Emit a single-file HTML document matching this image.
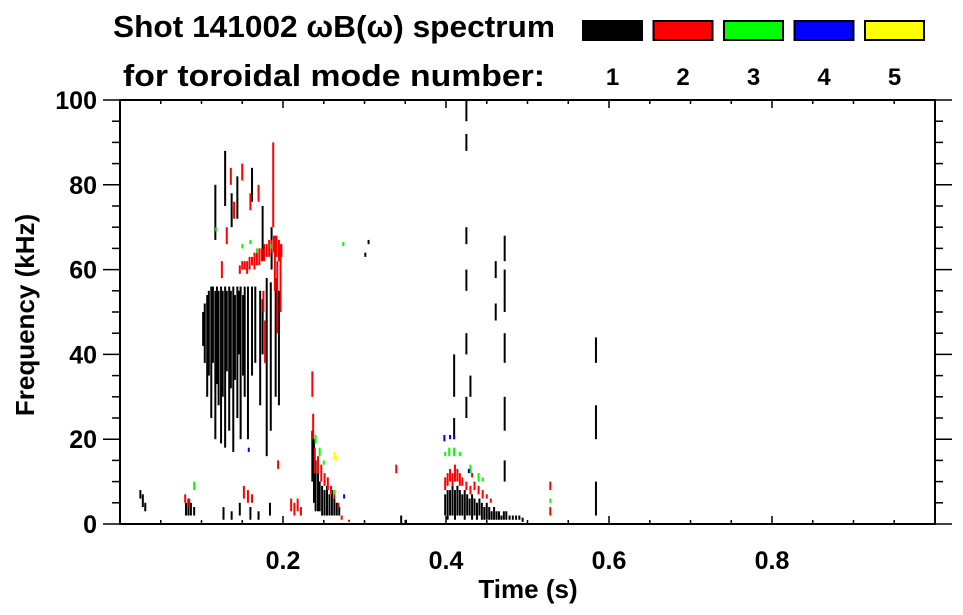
<!DOCTYPE html>
<html><head><meta charset="utf-8"><style>
html,body{margin:0;padding:0;background:#fff;}
svg{display:block;font-family:"Liberation Sans",Arial,sans-serif;font-weight:bold;}
</style></head><body>
<svg id="chart" width="963" height="615" viewBox="0 0 963 615">
<g>
<text x="113" y="37" font-size="31" textLength="442" lengthAdjust="spacingAndGlyphs">Shot 141002 ωB(ω) spectrum</text>
<text x="123" y="86" font-size="31" textLength="422" lengthAdjust="spacingAndGlyphs">for toroidal mode number:</text>
</g>
<g id="legend"></g>
<g id="marks"></g>
<g id="axes"></g>
<text x="528" y="598" font-size="26" text-anchor="middle">Time (s)</text>
<text transform="translate(34,315) rotate(-90)" font-size="26" text-anchor="middle">Frequency (kHz)</text>
</svg>
<script>
const modeLabels=["1","2","3","4","5"];
const modeColors=["#000000","#ff0000","#00ff00","#0000ff","#ffff00"];
const xTicks=[0.2,0.4,0.6,0.8];
const yTicks=[0,20,40,60,80,100];
// mode 1 (black) streaks: time, low freq, high freq
const m1T=[.102,.104,.107,.109,.112,.114,.117,.119,.121,.124,.126,.129,.131,.134,.136,.139,.141,.144,.146,.148,.151,.153,.157,.162,.166,.172,.175,.180,.185,.191,.195,
.117,.129,.137,.144,.162,.175,.186,
.025,.028,.031,.081,.084,.087,.091,.127,.137,.147,.160,.170,.184,
.236,.238,.240,.243,.245,.248,.251,.254,.257,.260,.263,.266,.269,.305,.301,.345,.351,
.399,.402,.405,.408,.411,.414,.417,.420,.423,.426,.429,.432,.435,.438,.441,.444,.447,.450,.453,.456,.459,.462,.465,.468,.471,.474,.478,.482,.486,.490,.494,
.410,.410,.425,.425,.425,.425,.425,.425,.430,.472,.472,.472,.472,.472,.461,.461,.584,.584,.584];
const m1Lo=[42,38,30,35,25,38,20,33,28,19,30,18,36,22,32,17,34,25,40,20,35,30,20,35,38,28,40,16,22,30,28,
67,75,70,72,76,62,60,
6,4,3,2,2,2,2,1,1,2,1,1,2,
10,5,3,3,3,2,2,2,2,2,2,2,2,66,63,0,0,
2,1,2,2,1,2,2,2,1,2,2,1,2,1,2,1,1,1,1,1,1,1,1,1,1,1,1,1,1,1,0.5,
30,20,95,88,66,55,40,25,30,62,50,38,22,10,58,48,38,20,2];
const m1Hi=[50,52,54,55,56,56,55,56,55,56,55,56,55,56,55,56,54,56,55,56,54,56,56,56,56,55,53,58,57,58,55,
80,88,78,82,84,75,70,
8,7,5,5,6,5,4,4,3,5,4,3,5,
22,20,15,12,10,9,8,9,7,8,6,5,4,67,64,2,1,
7,8,8,9,8,9,8,7,8,7,6,7,6,5,6,5,4,5,4,3,4,3,3,2,3,3,2,2,2,2,1.5,
40,25,100,92,70,60,45,30,35,68,60,45,30,15,62,52,44,28,10];
// mode 2 (red)
const m2T=[.147,.150,.153,.156,.159,.162,.165,.168,.171,.174,.177,.180,.183,.186,.189,.192,.195,.198,
.193,.197,.188,.190,.136,.131,.140,.150,.160,.170,.178,.176,.125,
.080,.085,.152,.157,.162,.194,.210,.214,.218,.222,
.236,.237,.239,.243,.247,.251,.255,.259,.263,.268,.272,.281,.339,
.399,.402,.405,.408,.411,.414,.417,.420,.425,.430,.435,.440,.445,.450,.455,.432,.528,.528];
const m2Lo=[59,60,60,59,60,61,60,61,61,62,62,63,63,64,64,63,62,63,
45,50,70,55,80,66,72,81,74,76,38,50,58,
5,4,6,5,5,13,3,2,3,2,
30,20,12,12,10,9,8,7,6,4,1,0.5,12,
8,9,10,9,10,10,9,9,8,7,8,7,6,6,5,11,8,2];
const m2Hi=[61,62,62,62,63,63,64,64,65,65,66,66,67,67,68,68,67,66,
62,66,90,68,84,70,76,85,78,80,48,55,62,
7,6,9,8,7,15,6,5,6,4,
36,26,18,16,14,12,11,9,8,5,2,1,14,
11,12,13,12,14,13,12,11,10,9,10,9,8,7,6,12,10,4];
// mode 3 (green)
const m3T=[.091,.150,.168,.160,.185,.240,.245,.250,.263,.274,.399,.404,.410,.417,.430,.440,.445,.528,.118];
const m3Lo=[8,65,64,66,65,19,16,14,7,65.5,16,16,16,16,12,10,10,5,69];
const m3Hi=[10,66,65,67,66,21,18,15,8,66.5,17,18,18,17,14,12,11,6,70];
// mode 4 (blue)
const m4T=[.398,.405,.410,.428,.275,.158];
const m4Lo=[19.5,20,20,12,6,17];
const m4Hi=[21,21,21,13,7,18];
// mode 5 (yellow)
const m5T=[.263,.266];
const m5Lo=[15,15];
const m5Hi=[17,16];

const NS="http://www.w3.org/2000/svg";
const X0=120,XS=815,Y0=524,YS=4.24;
function xs(t){return X0+t*XS;}
function ys(f){return Y0-f*YS;}
function mk(tag,attrs,parent){const e=document.createElementNS(NS,tag);for(const k in attrs)e.setAttribute(k,attrs[k]);parent.appendChild(e);return e;}

const marks=document.getElementById('marks');
const series=[[m1T,m1Lo,m1Hi],[m2T,m2Lo,m2Hi],[m3T,m3Lo,m3Hi],[m4T,m4Lo,m4Hi],[m5T,m5Lo,m5Hi]];
series.forEach((s,m)=>{
  const [T,L,H]=s;
  for(let i=0;i<T.length;i++){
    const r=mk('rect',{x:xs(T[i])-1,y:ys(H[i]),width:2,height:Math.max(1,ys(L[i])-ys(H[i])),fill:modeColors[m]},marks);
    
    
  }
});

const lg=document.getElementById('legend');
modeLabels.forEach((lab,i)=>{
  const x=582+i*70.5;
  const r=mk('rect',{x:x+1,y:21,width:59,height:19,fill:modeColors[i],stroke:'#000','stroke-width':2},lg);
  
  
  const t=mk('text',{x:x+30.5,y:85,'font-size':24,'text-anchor':'middle'},lg);
  t.textContent=lab;
  
  
});

const ax=document.getElementById('axes');
const XL=xs(0),XR=xs(1),YT=ys(100),YB=ys(0);
const frame=mk('rect',{x:XL,y:YT,width:XR-XL,height:YB-YT,fill:'none',stroke:'#000','stroke-width':2},ax);


for(let k=1;k<20;k++){
  const t=k*0.05,major=(k%4===0);const L=major?8:4;
  mk('line',{x1:xs(t),x2:xs(t),y1:YB,y2:YB-L,stroke:'#000','stroke-width':1.5},ax);
  mk('line',{x1:xs(t),x2:xs(t),y1:YT,y2:YT+L,stroke:'#000','stroke-width':1.5},ax);
}
for(let k=0;k<=20;k++){
  const f=k*5,major=(k%4===0);const L=major?17:8;
  mk('line',{x1:XL,x2:XL-L,y1:ys(f),y2:ys(f),stroke:'#000','stroke-width':1.5},ax);
  mk('line',{x1:XR,x2:XR+L,y1:ys(f),y2:ys(f),stroke:'#000','stroke-width':1.5},ax);
}
xTicks.forEach(t=>{
  const e=mk('text',{x:xs(t),y:569,'font-size':25,'text-anchor':'middle'},ax);
  e.textContent=t.toFixed(1);
  
  
});
yTicks.forEach(f=>{
  const e=mk('text',{x:97,y:ys(f)+9,'font-size':25,'text-anchor':'end'},ax);
  e.textContent=String(f);
  
  
});
</script>
</body></html>
